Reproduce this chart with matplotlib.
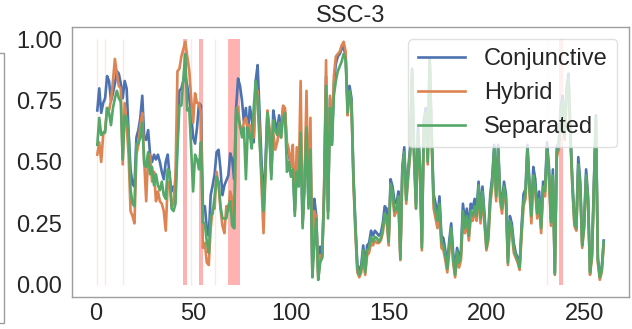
import numpy as np
import matplotlib
matplotlib.use("Agg")
import matplotlib.pyplot as plt
from matplotlib.patches import Rectangle

plt.rcParams['font.family'] = ['Liberation Sans', 'DejaVu Sans']

# x positions 1..260
steps = np.arange(1, 261)

conjunctive = [
    0.71, 0.80, 0.70, 0.74, 0.76, 0.85, 0.83, 0.75, 0.78, 0.82,
    0.87, 0.86, 0.82, 0.76, 0.83, 0.80, 0.62, 0.47, 0.41, 0.40,
    0.60, 0.63, 0.68, 0.77, 0.60, 0.59, 0.63, 0.53, 0.50, 0.53,
    0.51, 0.53, 0.50, 0.46, 0.43, 0.50, 0.53, 0.44, 0.38, 0.40,
    0.40, 0.60, 0.79, 0.80, 0.83, 0.855, 0.81, 0.76, 0.70, 0.60,
    0.575, 0.64, 0.74, 0.73, 0.32, 0.32, 0.23, 0.20, 0.365, 0.405,
    0.45, 0.54, 0.55, 0.47, 0.365, 0.405, 0.425, 0.445, 0.535, 0.51,
    0.43, 0.72, 0.84, 0.81, 0.75, 0.66, 0.72, 0.60, 0.725, 0.68,
    0.58, 0.83, 0.895, 0.70, 0.50, 0.33, 0.50, 0.70, 0.62, 0.45,
    0.71, 0.66, 0.63, 0.69, 0.62, 0.72, 0.70, 0.55, 0.53, 0.48,
    0.50, 0.30, 0.48, 0.43, 0.63, 0.25, 0.42, 0.66, 0.33, 0.57,
    0.05, 0.35, 0.28, 0.04, 0.155, 0.12, 0.38, 0.85, 0.30, 0.76,
    0.58, 0.82, 0.90, 0.93, 0.94, 0.96, 0.97, 0.93, 0.74, 0.81,
    0.76, 0.45, 0.25, 0.08, 0.06, 0.08, 0.16, 0.07, 0.16, 0.17,
    0.22, 0.20, 0.22, 0.21, 0.20, 0.21, 0.25, 0.32, 0.31, 0.19,
    0.43, 0.40, 0.34, 0.33, 0.38, 0.12, 0.48, 0.56, 0.36, 0.47,
    0.56, 0.88, 0.55, 0.33, 0.64, 0.49, 0.17, 0.67, 0.72, 0.52,
    0.92, 0.62, 0.37, 0.33, 0.28, 0.36, 0.20, 0.19, 0.14, 0.08,
    0.18, 0.25, 0.13, 0.06, 0.15, 0.11, 0.14, 0.33, 0.26, 0.31,
    0.23, 0.33, 0.31, 0.35, 0.30, 0.42, 0.29, 0.40, 0.29, 0.17,
    0.22, 0.37, 0.44, 0.57, 0.38, 0.57, 0.38, 0.33, 0.42, 0.37,
    0.11, 0.28, 0.25, 0.17, 0.13, 0.11, 0.08, 0.24, 0.37, 0.39,
    0.57, 0.42, 0.30, 0.48, 0.43, 0.30, 0.38, 0.24, 0.42, 0.40,
    0.58, 0.48, 0.27, 0.47, 0.05, 0.56, 0.58, 0.72, 0.77, 0.62,
    0.80, 0.86, 0.62, 0.42, 0.27, 0.25, 0.52, 0.42, 0.17, 0.26,
    0.47, 0.36, 0.06, 0.13, 0.42, 0.69, 0.11, 0.04, 0.07, 0.18,
]

hybrid = [
    0.53, 0.58, 0.50, 0.61, 0.63, 0.72, 0.71, 0.75, 0.83, 0.92,
    0.86, 0.81, 0.80, 0.49, 0.74, 0.65, 0.53, 0.30, 0.28, 0.25,
    0.53, 0.57, 0.65, 0.70, 0.50, 0.34, 0.53, 0.53, 0.42, 0.46,
    0.34, 0.38, 0.34, 0.33, 0.30, 0.22, 0.41, 0.42, 0.32, 0.33,
    0.45, 0.87, 0.88, 0.93, 0.96, 0.99, 0.93, 0.875, 0.76, 0.66,
    0.78, 0.74, 0.74, 0.70, 0.15, 0.17, 0.09, 0.08, 0.23, 0.31,
    0.31, 0.46, 0.405, 0.31, 0.24, 0.21, 0.32, 0.30, 0.38, 0.35,
    0.23, 0.685, 0.725, 0.64, 0.63, 0.66, 0.68, 0.64, 0.65, 0.61,
    0.60, 0.77, 0.79, 0.62, 0.40, 0.21, 0.45, 0.71, 0.64, 0.45,
    0.62, 0.55, 0.58, 0.63, 0.60, 0.73, 0.72, 0.58, 0.55, 0.48,
    0.57, 0.30, 0.56, 0.43, 0.83, 0.25, 0.42, 0.79, 0.33, 0.68,
    0.04, 0.30, 0.27, 0.02, 0.12, 0.11, 0.40, 0.915, 0.30, 0.77,
    0.57, 0.85, 0.93, 0.94, 0.95, 0.975, 0.99, 0.95, 0.69, 0.78,
    0.73, 0.42, 0.21, 0.05, 0.03, 0.05, 0.12, 0.04, 0.12, 0.13,
    0.17, 0.16, 0.18, 0.17, 0.17, 0.18, 0.21, 0.27, 0.26, 0.16,
    0.40, 0.36, 0.28, 0.30, 0.34, 0.10, 0.45, 0.53, 0.33, 0.44,
    0.53, 0.86, 0.52, 0.31, 0.60, 0.46, 0.14, 0.64, 0.69, 0.49,
    0.90, 0.58, 0.31, 0.27, 0.23, 0.30, 0.15, 0.14, 0.10, 0.05,
    0.13, 0.21, 0.09, 0.03, 0.11, 0.07, 0.10, 0.27, 0.21, 0.25,
    0.18, 0.27, 0.26, 0.30, 0.26, 0.38, 0.25, 0.36, 0.25, 0.14,
    0.18, 0.33, 0.40, 0.53, 0.34, 0.53, 0.34, 0.29, 0.38, 0.33,
    0.08, 0.24, 0.21, 0.13, 0.11, 0.09, 0.06, 0.20, 0.32, 0.35,
    0.54, 0.38, 0.25, 0.42, 0.38, 0.27, 0.33, 0.21, 0.38, 0.36,
    0.54, 0.44, 0.24, 0.43, 0.04, 0.52, 0.55, 0.69, 0.74, 0.59,
    0.77, 0.83, 0.59, 0.39, 0.24, 0.22, 0.47, 0.38, 0.15, 0.23,
    0.43, 0.33, 0.04, 0.11, 0.39, 0.67, 0.09, 0.02, 0.05, 0.16,
]

separated = [
    0.57, 0.68, 0.61, 0.62, 0.62, 0.72, 0.70, 0.65, 0.72, 0.76,
    0.79, 0.76, 0.745, 0.51, 0.69, 0.68, 0.62, 0.39, 0.33, 0.32,
    0.575, 0.575, 0.60, 0.66, 0.49, 0.48, 0.54, 0.45, 0.48, 0.405,
    0.45, 0.405, 0.385, 0.42, 0.365, 0.35, 0.47, 0.46, 0.31, 0.30,
    0.33, 0.55, 0.73, 0.73, 0.84, 0.94, 0.71, 0.72, 0.555, 0.38,
    0.53, 0.51, 0.47, 0.58, 0.255, 0.25, 0.175, 0.13, 0.28, 0.29,
    0.36, 0.44, 0.42, 0.32, 0.27, 0.27, 0.27, 0.32, 0.34, 0.24,
    0.23, 0.72, 0.68, 0.65, 0.60, 0.64, 0.43, 0.64, 0.61, 0.555,
    0.72, 0.83, 0.75, 0.58, 0.45, 0.30, 0.45, 0.70, 0.62, 0.43,
    0.67, 0.63, 0.61, 0.66, 0.60, 0.68, 0.70, 0.46, 0.50, 0.44,
    0.47, 0.28, 0.46, 0.40, 0.62, 0.23, 0.40, 0.64, 0.31, 0.55,
    0.03, 0.16, 0.27, 0.02, 0.09, 0.11, 0.36, 0.81, 0.27, 0.72,
    0.57, 0.77, 0.83, 0.87, 0.89, 0.91, 0.94, 0.92, 0.70, 0.79,
    0.74, 0.43, 0.23, 0.065, 0.04, 0.065, 0.14, 0.05, 0.14, 0.15,
    0.195, 0.175, 0.195, 0.19, 0.175, 0.19, 0.23, 0.29, 0.28, 0.175,
    0.41, 0.38, 0.30, 0.31, 0.36, 0.105, 0.46, 0.54, 0.345, 0.45,
    0.54, 0.87, 0.53, 0.31, 0.62, 0.47, 0.15, 0.65, 0.70, 0.50,
    0.915, 0.60, 0.34, 0.30, 0.26, 0.33, 0.175, 0.16, 0.12, 0.065,
    0.16, 0.23, 0.105, 0.04, 0.135, 0.09, 0.12, 0.30, 0.23, 0.28,
    0.20, 0.30, 0.28, 0.32, 0.28, 0.405, 0.27, 0.38, 0.27, 0.15,
    0.20, 0.35, 0.42, 0.555, 0.36, 0.555, 0.36, 0.31, 0.40, 0.35,
    0.09, 0.26, 0.23, 0.15, 0.12, 0.10, 0.07, 0.22, 0.34, 0.37,
    0.555, 0.40, 0.28, 0.445, 0.40, 0.29, 0.35, 0.23, 0.40, 0.38,
    0.555, 0.46, 0.255, 0.445, 0.045, 0.54, 0.56, 0.70, 0.75, 0.60,
    0.78, 0.84, 0.60, 0.40, 0.255, 0.23, 0.49, 0.40, 0.16, 0.24,
    0.445, 0.34, 0.05, 0.12, 0.40, 0.68, 0.10, 0.03, 0.06, 0.175,
]

# highlighted regions (start, end) and thin markers
strong_spans = [(45, 47), (53, 55), (68, 74), (237, 239)]
faint_marks = [1, 5, 14, 49, 61, 231]

colors = {'Conjunctive': '#4C72B0', 'Hybrid': '#DD8452', 'Separated': '#55A868'}

fig = plt.figure(figsize=(6.32, 3.29), dpi=100)
ax = fig.add_axes([0.1139, 0.0973, 0.8814, 0.8206])

for x0, x1 in strong_spans:
    ax.fill_betweenx([0, 1], x0, x1, color='red', alpha=0.3, lw=0)
ax.vlines(faint_marks, 0, 1, color='red', alpha=0.1, lw=1)

ax.plot(steps, conjunctive, color=colors['Conjunctive'], lw=1.9, label='Conjunctive')
ax.plot(steps, hybrid, color=colors['Hybrid'], lw=1.9, label='Hybrid')
ax.plot(steps, separated, color=colors['Separated'], lw=1.9, label='Separated')

ax.set_yticks([0.0, 0.25, 0.5, 0.75, 1.0])
ax.set_xticks([0, 50, 100, 150, 200, 250])
ax.tick_params(axis='both', length=0, labelsize=17, colors='#262626')
ax.tick_params(axis='y', pad=7)
ax.tick_params(axis='x', pad=4)
for s in ax.spines.values():
    s.set_color('0.62')
    s.set_linewidth(1)

ax.set_title('SSC-3', fontsize=17, pad=2, color='#262626')
leg = ax.legend(loc='upper right', fontsize=17, handlelength=2.0,
                framealpha=0.8, borderaxespad=0.5)
leg.get_frame().set_edgecolor('0.85')
for t in leg.get_texts():
    t.set_color('#262626')

# edge of the neighbouring panel, cut off at the left
fig.add_artist(Rectangle((-0.05, 1 - 323 / 329), 0.05 + 4 / 632, 270 / 329,
                         transform=fig.transFigure, fill=False,
                         edgecolor='0.62', lw=1))

fig.savefig('out.png', dpi=100)
